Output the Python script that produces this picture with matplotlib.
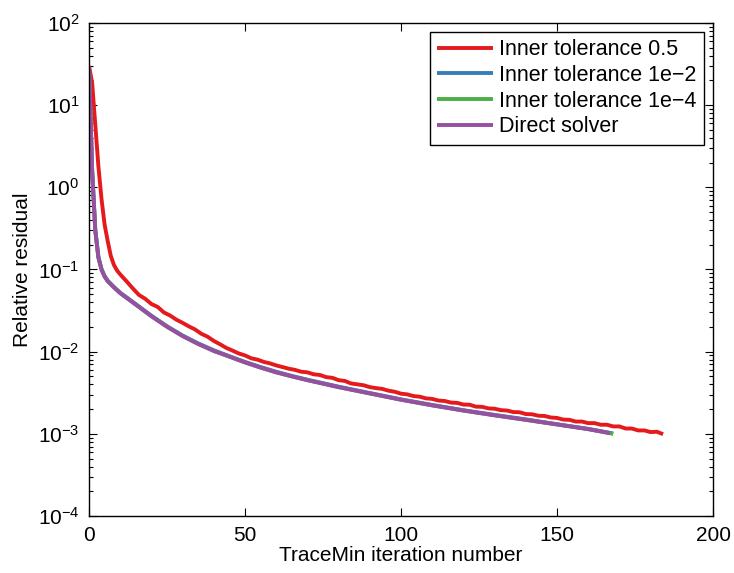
"""Relative residual vs TraceMin iteration number for several inner tolerances."""

import matplotlib
matplotlib.use("Agg")
import matplotlib.pyplot as plt
import matplotlib.ticker as mticker

# -- Data --------------------------------------------------------------------
RED_X = [0, 1, 2, 3, 4, 5, 6, 7, 8, 9, 10, 12, 14, 16, 18, 20, 22, 24, 26, 28,
         30, 32, 34, 36, 38, 40, 42, 44, 46, 48, 50, 52, 54, 56, 58, 60, 62,
         64, 66, 68, 70, 72, 74, 76, 78, 80, 82, 84, 86, 88, 90, 92, 94, 96,
         98, 100, 102, 104, 106, 108, 110, 112, 114, 116, 118, 120, 122, 124,
         126, 128, 130, 132, 134, 136, 138, 140, 142, 144, 146, 148, 150, 152,
         154, 156, 158, 160, 162, 164, 166, 168, 170, 172, 174, 176, 178, 180,
         182, 184]
RED_Y = [30, 18.6, 5.8, 1.8, 0.72, 0.35, 0.22, 0.145, 0.113, 0.097, 0.087,
         0.072, 0.059, 0.049, 0.044, 0.038, 0.035, 0.030, 0.0275, 0.0245,
         0.0224, 0.0203, 0.0186, 0.0165, 0.0152, 0.0135, 0.0123, 0.0111,
         0.0103, 0.0095, 0.0090, 0.0083, 0.0080, 0.0075, 0.0072, 0.0068,
         0.0065, 0.0062, 0.0060, 0.0057, 0.0056, 0.0053, 0.0052, 0.0049,
         0.0048, 0.0045, 0.0044, 0.0041, 0.0040, 0.0039, 0.0037, 0.0036,
         0.00352, 0.00335, 0.00325, 0.00308, 0.00302, 0.00288, 0.00283,
         0.00270, 0.00266, 0.00254, 0.00251, 0.00240, 0.00238, 0.00227,
         0.00226, 0.00214, 0.00213, 0.00204, 0.00202, 0.00194, 0.00192,
         0.00184, 0.00183, 0.00174, 0.00173, 0.00166, 0.00165, 0.00158,
         0.00156, 0.00149, 0.00148, 0.00141, 0.00141, 0.00135, 0.00135,
         0.00129, 0.00129, 0.00123, 0.00123, 0.00116, 0.00116, 0.00110,
         0.00110, 0.00105, 0.00106, 0.00099]

DIRECT_X = [0, 1, 2, 3, 4, 5, 6, 8, 10, 13, 16, 20, 25, 30, 35, 40, 45, 50,
            55, 60, 65, 70, 80, 90, 100, 110, 120, 130, 140, 150, 160, 167]
DIRECT_Y = [29, 1.6, 0.30, 0.14, 0.10, 0.082, 0.072, 0.0605, 0.0515, 0.0425,
            0.0350, 0.0270, 0.0201, 0.0155, 0.0124, 0.0102, 0.0087, 0.0074,
            0.0064, 0.0056, 0.0050, 0.0045, 0.0037, 0.0031, 0.0026, 0.00222,
            0.00192, 0.00168, 0.00148, 0.00130, 0.00114, 0.00102]

TOL2_X = DIRECT_X[:-1] + [168]
TOL2_Y = [29, 1.62, 0.305, 0.142, 0.101, 0.083, 0.073, 0.0612, 0.0522,
          0.0431, 0.0355, 0.0274, 0.0204, 0.0157, 0.0126, 0.0104, 0.0088,
          0.0075, 0.0065, 0.0057, 0.00507, 0.00456, 0.00375, 0.00314,
          0.00263, 0.00225, 0.00194, 0.00170, 0.00150, 0.00131, 0.00115,
          0.00101]

TOL4_X = DIRECT_X[:-1] + [168]
TOL4_Y = [29, 1.6, 0.30, 0.14, 0.10, 0.082, 0.072, 0.0605, 0.0515, 0.0425,
          0.0350, 0.0270, 0.0201, 0.0155, 0.0124, 0.0102, 0.0087, 0.0074,
          0.0064, 0.0056, 0.0050, 0.0045, 0.0037, 0.0031, 0.0026, 0.00222,
          0.00192, 0.00168, 0.00148, 0.00130, 0.00114, 0.00100]

X_TICKS = [0, 50, 100, 150, 200]
Y_TICKS = [1e-4, 1e-3, 1e-2, 1e-1, 1e0, 1e1, 1e2]

LABELS = ["Inner tolerance 0.5", "Inner tolerance 1e\u22122",
          "Inner tolerance 1e\u22124", "Direct solver"]
COLORS = ["#E41A1C", "#377EB8", "#4DAF4A", "#984EA3"]

plt.rcParams.update({
    "font.family": "sans-serif",
    "font.sans-serif": ["Liberation Sans", "DejaVu Sans"],
    "font.size": 15,
    "mathtext.fontset": "custom",
    "mathtext.rm": "Liberation Sans",
    "mathtext.it": "Liberation Sans:italic",
    "axes.linewidth": 1.0,
})

fig = plt.figure(figsize=(7.34, 5.73), dpi=100)
ax = fig.add_axes([0.1213, 0.0995, 0.8501, 0.8604])

series = [(RED_X, RED_Y), (TOL2_X, TOL2_Y), (TOL4_X, TOL4_Y),
          (DIRECT_X, DIRECT_Y)]
for (xs, ys), lab, col in zip(series, LABELS, COLORS):
    ax.plot(xs, ys, color=col, linewidth=2.8, label=lab,
            solid_joinstyle="round", solid_capstyle="butt")

ax.set_yscale("log")
ax.set_xlim(0, 200)
ax.set_ylim(1e-4, 1e2)
ax.set_xticks(X_TICKS)
ax.yaxis.set_major_locator(mticker.FixedLocator(Y_TICKS))
ax.yaxis.set_major_formatter(mticker.LogFormatterSciNotation())
ax.yaxis.set_minor_locator(mticker.LogLocator(base=10, subs=range(2, 10),
                                              numticks=20))
ax.yaxis.set_minor_formatter(mticker.NullFormatter())
ax.tick_params(which="both", direction="in", top=True, right=True)
ax.tick_params(which="major", length=6, width=0.8, labelsize=15, pad=7)
ax.tick_params(which="minor", length=3, width=0.8)

ax.set_xlabel("TraceMin iteration number", fontsize=15, labelpad=1)
ax.set_ylabel("Relative residual", fontsize=15, labelpad=4)

leg = ax.legend(loc="upper right", fontsize=15.5, fancybox=False,
                edgecolor="black", framealpha=1, handlelength=2.6,
                borderpad=0.35, labelspacing=0.22, handletextpad=0.3,
                borderaxespad=0.4)
leg.get_frame().set_linewidth(1.0)

fig.savefig("out.png", dpi=100, facecolor="white")
